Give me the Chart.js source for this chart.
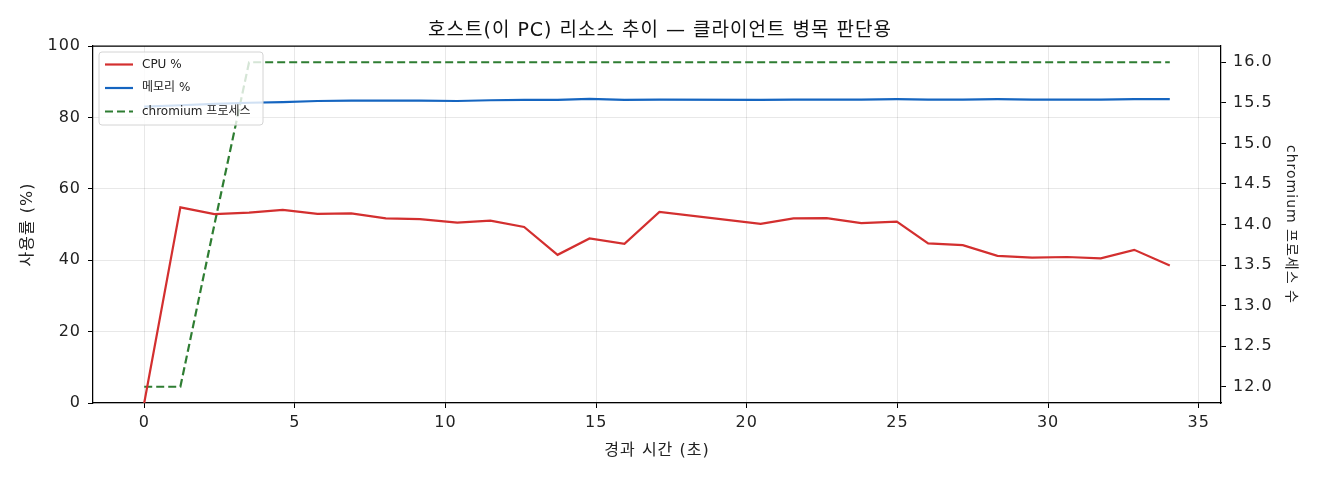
<!DOCTYPE html>
<html lang="ko">
<head>
    <meta charset="UTF-8">
    <title>호스트 리소스 추이</title>
    <script src="https://cdn.jsdelivr.net/npm/chart.js"></script>
    <style>
        body { margin: 0; background: #fff; }
        #wrap { width: 1320px; height: 480px; }
    </style>
</head>
<body>
    <div id="wrap"><canvas id="hostChart" width="1320" height="480"></canvas></div>

    <script>
        // 데이터
        const timeSec = [0, 1.20, 2.33, 3.48, 4.60, 5.75, 6.87, 8.02, 9.15, 10.39, 11.49, 12.61, 13.72, 14.78, 15.94, 17.10,
                         20.46, 21.55, 22.65, 23.80, 24.98, 26.02, 27.17, 28.32, 29.47, 30.63, 31.75, 32.86, 34.04];
        const cpuPct = [0, 54.8, 52.9, 53.3, 54.1, 53.0, 53.1, 51.7, 51.5, 50.5, 51.1, 49.3, 41.5, 46.1, 44.6, 53.5,
                        50.2, 51.7, 51.8, 50.4, 50.8, 44.7, 44.2, 41.2, 40.7, 40.9, 40.5, 42.9, 38.5];
        const memPct = [83.0, 83.4, 83.8, 84.1, 84.3, 84.6, 84.7, 84.7, 84.7, 84.6, 84.8, 84.9, 84.9, 85.2, 84.9, 85.0,
                        84.9, 85.0, 85.0, 85.0, 85.1, 85.0, 85.0, 85.1, 85.0, 85.0, 85.0, 85.1, 85.1];
        const chromiumCount = [12, 12, 14, 16, 16, 16, 16, 16, 16, 16, 16, 16, 16, 16, 16, 16,
                               16, 16, 16, 16, 16, 16, 16, 16, 16, 16, 16, 16, 16];
        const leftTicks = [0, 20, 40, 60, 80, 100];

        const FONT = '"DejaVu Sans", "Noto Sans CJK KR", sans-serif';
        const pts = arr => arr.map((v, i) => ({ x: timeSec[i], y: v }));

        // 흰 배경 + 위쪽 테두리 + 그래프 안쪽 범례
        const framePlugin = {
            id: 'frame',
            beforeDraw(chart) {
                const c = chart.ctx;
                c.fillStyle = '#fff';
                c.fillRect(0, 0, chart.width, chart.height);
                c.letterSpacing = '1px'; // 원본 글꼴이 자간이 넓음
            },
            afterDraw(chart) {
                const c = chart.ctx, a = chart.chartArea;
                c.save();
                c.strokeStyle = '#000';
                c.lineWidth = 1.25;
                c.beginPath();
                c.moveTo(a.left, a.top);
                c.lineTo(a.right, a.top);
                c.stroke();

                // 범례
                const x0 = a.left + 6, y0 = a.top + 6, w = 164, h = 73, r = 3;
                c.beginPath();
                c.roundRect(x0, y0, w, h, r);
                c.fillStyle = 'rgba(255,255,255,0.8)';
                c.fill();
                c.strokeStyle = '#d4d4d4';
                c.lineWidth = 1;
                c.stroke();
                chart.data.datasets.forEach((ds, i) => {
                    const y = y0 + 12.5 + i * 23.5;
                    c.strokeStyle = ds.borderColor;
                    c.lineWidth = ds.borderWidth;
                    c.setLineDash(ds.borderDash || []);
                    c.beginPath();
                    c.moveTo(x0 + 6, y);
                    c.lineTo(x0 + 34, y);
                    c.stroke();
                    c.setLineDash([]);
                    c.fillStyle = '#222';
                    c.font = '12px ' + FONT;
                    c.letterSpacing = '0px';
                    c.textBaseline = 'middle';
                    c.fillText(ds.label, x0 + 43, y);
                });
                c.restore();
            }
        };

        const ctx = document.getElementById('hostChart').getContext('2d');
        const tickFont = { family: FONT, size: 16 };
        const titleFont = { family: FONT, size: 16 };

        new Chart(ctx, {
            type: 'line',
            data: {
                datasets: [
                    { label: 'CPU %', data: pts(cpuPct), yAxisID: 'y', borderColor: '#d32f2f', borderWidth: 2.2 },
                    { label: '메모리 %', data: pts(memPct), yAxisID: 'y', borderColor: '#1565c0', borderWidth: 2.2 },
                    { label: 'chromium 프로세스', data: pts(chromiumCount), yAxisID: 'y2', borderColor: '#2e7d32',
                      borderWidth: 2.2, borderDash: [8, 4] }
                ]
            },
            options: {
                responsive: false,
                animation: false,
                devicePixelRatio: 1,
                layout: { padding: 0 },
                elements: { point: { radius: 0 }, line: { tension: 0, fill: false } },
                plugins: {
                    legend: { display: false },
                    tooltip: { enabled: false },
                    title: {
                        display: true,
                        text: '호스트(이 PC) 리소스 추이 — 클라이언트 병목 판단용',
                        color: '#111',
                        font: { family: FONT, size: 19, weight: 'normal' },
                        padding: { top: 20, bottom: 3.2 }
                    }
                },
                scales: {
                    x: {
                        type: 'linear',
                        min: -1.70,
                        max: 35.74,
                        afterFit: s => { s.height = 77; },
                        ticks: { stepSize: 5, includeBounds: false, color: '#222', font: tickFont, padding: 5, maxRotation: 0 },
                        grid: { color: 'rgba(0,0,0,0.09)', tickColor: '#000', tickLength: 5 },
                        border: { display: true, color: '#000', width: 1.25 },
                        title: { display: true, text: '경과 시간 (초)', color: '#222', font: titleFont, padding: { top: 0, bottom: 20 } }
                    },
                    y: {
                        position: 'left',
                        min: leftTicks[0],
                        max: leftTicks[leftTicks.length - 1],
                        afterFit: s => { s.width = 93; },
                        ticks: { stepSize: 20, color: '#222', font: tickFont, padding: 7 },
                        grid: { color: 'rgba(0,0,0,0.09)', tickColor: '#000', tickLength: 5 },
                        border: { display: true, color: '#000', width: 1.25 },
                        title: { display: true, text: '사용률 (%)', color: '#222', font: titleFont, padding: { top: 18, bottom: 0 } }
                    },
                    y2: {
                        position: 'right',
                        min: 11.8,
                        max: 16.2,
                        afterFit: s => { s.width = 99; },
                        ticks: { stepSize: 0.5, includeBounds: false, color: '#222', font: tickFont, padding: 7,
                                 callback: v => v.toFixed(1) },
                        grid: { drawOnChartArea: false, tickColor: '#000', tickLength: 5 },
                        border: { display: true, color: '#000', width: 1.25 },
                        title: { display: true, text: 'chromium 프로세스 수', color: '#222', font: { family: FONT, size: 14 },
                                 padding: { top: 21, bottom: 0 } }
                    }
                }
            },
            plugins: [framePlugin]
        });
    </script>
</body>
</html>
